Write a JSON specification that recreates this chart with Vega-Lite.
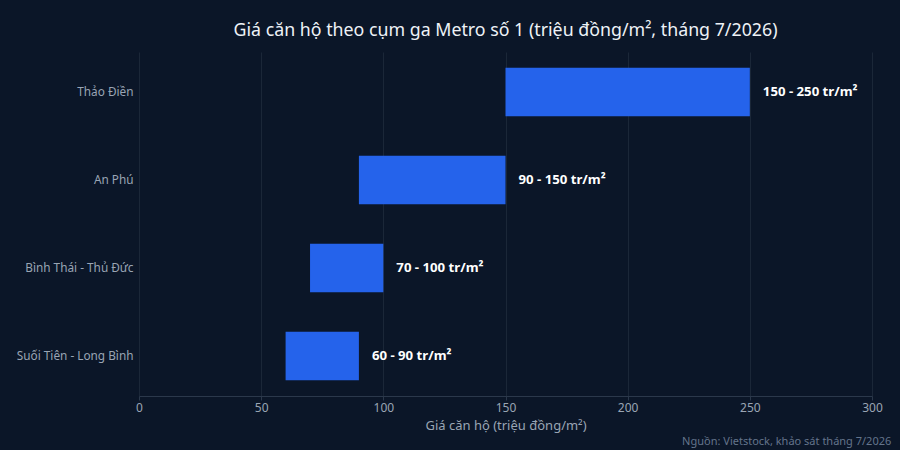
{
  "$schema": "https://vega.github.io/schema/vega-lite/v6.json",
  "background": "#0b1628",
  "padding": {"left": 16, "top": 22, "right": 19, "bottom": 3},
  "title": {
    "text": "Nguồn: Vietstock, khảo sát tháng 7/2026",
    "orient": "bottom",
    "anchor": "end",
    "fontSize": 11,
    "fontWeight": "normal",
    "color": "#64748b",
    "offset": 4,
    "dx": 9
  },
  "vconcat": [
    {
      "width": 733,
      "height": 344,
      "title": {
        "text": "Giá căn hộ theo cụm ga Metro số 1 (triệu đồng/m², tháng 7/2026)",
        "anchor": "middle",
        "frame": "group",
        "fontSize": 17.8,
        "fontWeight": "normal",
        "color": "#eef2f7",
        "offset": 12
      },
      "data": {
        "values": [
          {"cluster": "Thảo Điền", "low": 150, "high": 250, "label": "150 - 250 tr/m²"},
          {"cluster": "An Phú", "low": 90, "high": 150, "label": "90 - 150 tr/m²"},
          {"cluster": "Bình Thái - Thủ Đức", "low": 70, "high": 100, "label": "70 - 100 tr/m²"},
          {"cluster": "Suối Tiên - Long Bình", "low": 60, "high": 90, "label": "60 - 90 tr/m²"}
        ]
      },
      "encoding": {
        "y": {
          "field": "cluster",
          "type": "nominal",
          "sort": null,
          "title": null,
          "scale": {"paddingInner": 0.45, "paddingOuter": 0.18},
          "axis": {
            "domain": false,
            "ticks": false,
            "grid": false,
            "labelPadding": 6,
            "labelFontSize": 11.8,
            "labelColor": "#9aa5b4"
          }
        }
      },
      "layer": [
        {
          "mark": {"type": "bar", "color": "#2563eb"},
          "encoding": {
            "x": {
              "field": "low",
              "type": "quantitative",
              "title": "Giá căn hộ (triệu đồng/m²)",
              "scale": {"domain": [0, 300]},
              "axis": {
                "values": [0, 50, 100, 150, 200, 250, 300],
                "labelFlush": false,
                "grid": true,
                "gridColor": "#1b2738",
                "domainColor": "#2b384b",
                "tickColor": "#2b384b",
                "tickSize": 4,
                "labelFontSize": 12,
                "labelColor": "#9aa5b4",
                "titleFontSize": 13,
                "titleFontWeight": "normal",
                "titleColor": "#9aa5b4",
                "titlePadding": 6
              }
            },
            "x2": {"field": "high"}
          }
        },
        {
          "mark": {
            "type": "text",
            "align": "left",
            "baseline": "middle",
            "dx": 13,
            "fontSize": 13.2,
            "fontWeight": "bold",
            "color": "#ffffff"
          },
          "encoding": {
            "x": {"field": "high", "type": "quantitative"},
            "text": {"field": "label"}
          }
        }
      ]
    }
  ],
  "config": {
    "font": "Noto Sans",
    "view": {"stroke": null},
    "concat": {"spacing": 0}
  }
}
